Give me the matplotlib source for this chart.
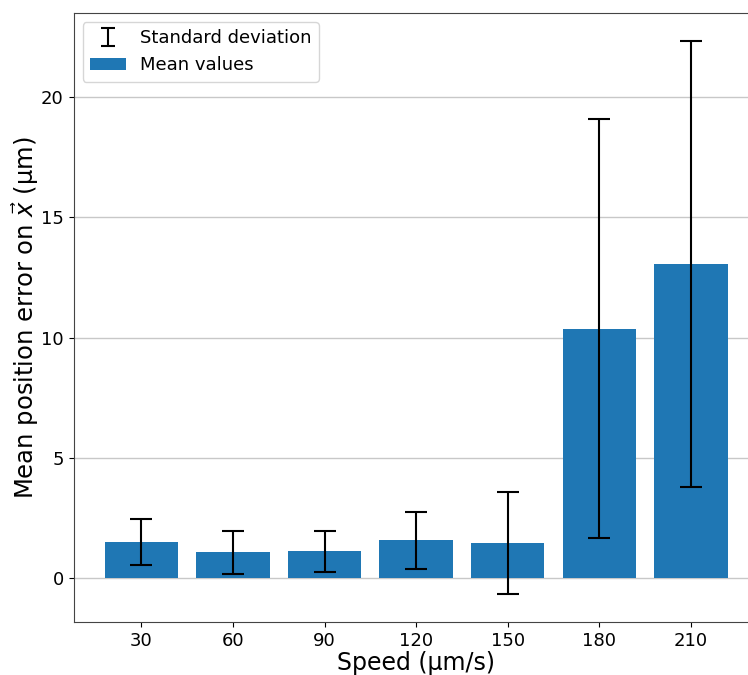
import matplotlib
matplotlib.use("Agg")
import matplotlib.pyplot as plt
from matplotlib.legend_handler import HandlerErrorbar
from matplotlib.lines import Line2D

# speeds (µm/s) and measured position error (µm)
speeds = [30, 60, 90, 120, 150, 180, 210]
mean_err = [1.50, 1.08, 1.12, 1.58, 1.46, 10.37, 13.06]
std_err = [0.96, 0.88, 0.86, 1.19, 2.12, 8.70, 9.26]


class SmallCapHandler(HandlerErrorbar):
    # smaller caps in the legend entry
    def create_artists(self, legend, orig_handle, xdescent, ydescent,
                       width, height, fontsize, trans):
        artists = super().create_artists(legend, orig_handle, xdescent, ydescent,
                                         width, height, fontsize, trans)
        for a in artists:
            if isinstance(a, Line2D) and a.get_marker() == "_":
                a.set_markersize(10)
        return artists


fig = plt.figure(figsize=(7.48, 6.75), dpi=100)
ax = fig.add_axes([0.0983, 0.0785, 0.916, 0.902])

ax.grid(True, axis="y", color="#c8c8c8", linewidth=1.0, zorder=0)
ax.set_axisbelow(True)

eb = ax.errorbar(speeds, mean_err, yerr=std_err, fmt="none", ecolor="black",
                 elinewidth=1.5, capsize=8, capthick=1.5, zorder=3,
                 label="Standard deviation")
bars = ax.bar(speeds, mean_err, width=24, color="#1f77b4", zorder=2,
              label="Mean values")

ax.set_xticks(speeds)
ax.tick_params(axis="both", labelsize=13)
ax.set_xlabel("Speed (µm/s)", fontsize=17, labelpad=1)
ax.set_ylabel(r"Mean position error on $\vec{x}$ (µm)", fontsize=17.5, labelpad=0)

for s in ax.spines.values():
    s.set_color("#444444")

ax.legend(handles=[eb, bars], loc="upper left", fontsize=13,
          handler_map={type(eb): SmallCapHandler()})

fig.savefig("out.png", dpi=100)
